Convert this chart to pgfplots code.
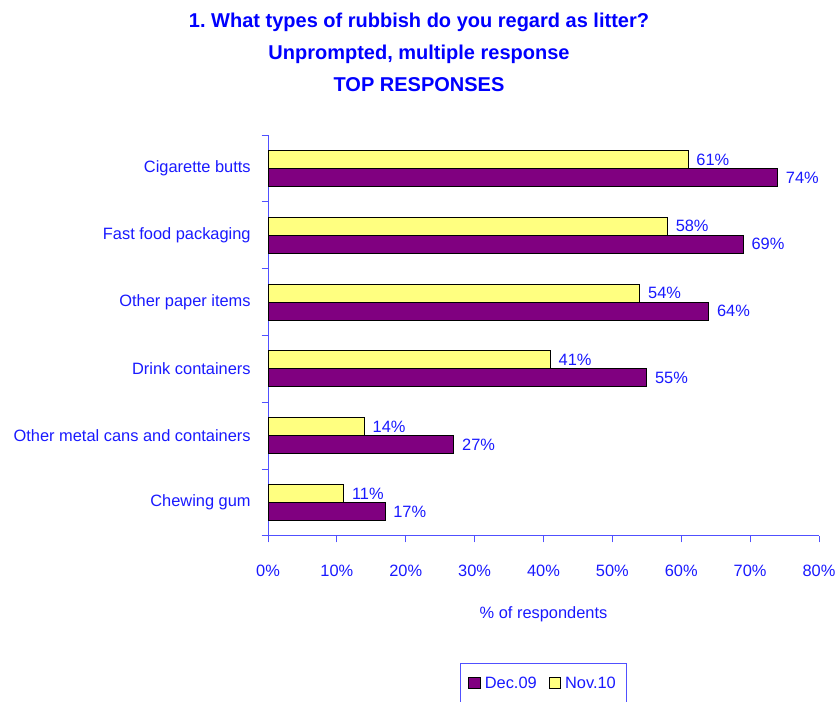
\documentclass[border=0pt]{standalone}
\usepackage{pgfplots}
\pgfplotsset{compat=1.18}
\usepackage{fontspec}
\setmainfont{Liberation Sans}
\definecolor{tblue}{RGB}{0,0,255}
\definecolor{lblue}{RGB}{25,25,255}
\definecolor{axblue}{RGB}{80,80,255}
\definecolor{barpurple}{RGB}{128,0,128}
\definecolor{baryellow}{RGB}{255,255,128}
\frenchspacing
\begin{document}
\begin{tikzpicture}
\useasboundingbox (0,0) rectangle (628.5pt,526.5pt);
\node[anchor=base, font=\fontsize{15}{18}\selectfont\bfseries, text=tblue] at (314.25pt,505.5pt) {1. What types of rubbish do you regard as litter?};
\node[anchor=base, font=\fontsize{15}{18}\selectfont\bfseries, text=tblue] at (314.25pt,481.5pt) {Unprompted, multiple response};
\node[anchor=base, font=\fontsize{15}{18}\selectfont\bfseries, text=tblue] at (314.25pt,457.5pt) {TOP RESPONSES};
\begin{axis}[
  at={(201pt,124.5pt)}, anchor=south west,
  scale only axis, width=413.25pt, height=300.75pt,
  xbar, bar width=13.5pt,
  xmin=0, xmax=80, ymin=-0.5, ymax=5.5,
  axis x line*=bottom, axis y line*=left,
  axis line style={axblue, line width=0.75pt, -},
  /pgf/number format/assume math mode=true,
  tick align=outside,
  major tick length=0pt, minor tick length=4.75pt,
  tick style={axblue, line width=0.75pt},
  xtick={0,10,...,80},
  xticklabels={0\%,10\%,20\%,30\%,40\%,50\%,60\%,70\%,80\%},
  minor xtick={0,10,...,80},
  ytick={0,1,2,3,4,5},
  yticklabels={Chewing gum,Other metal cans and containers,Drink containers,Other paper items,Fast food packaging,Cigarette butts},
  minor ytick={-0.5,0.5,...,5.5},
  tick label style={font=\fontsize{12.3}{14}\selectfont, text=lblue},
  xticklabel style={anchor=center, yshift=-26.25pt},
  yticklabel style={anchor=east, xshift=-9.5pt},
  xlabel={\% of respondents},
  xlabel style={at={(axis description cs:0.5,0)}, anchor=center, yshift=-59pt, font=\fontsize{12.3}{14}\selectfont, text=lblue},
  point meta=x,
  nodes near coords={\pgfmathprintnumber{\pgfplotspointmeta}\%},
  nodes near coords align=horizontal,
  every node near coord/.append style={font=\fontsize{12.3}{14}\selectfont, text=lblue, xshift=2.5pt},
  legend columns=-1,
  legend style={at={(0.5,0)}, anchor=north, yshift=-95.25pt, draw=axblue, line width=0.75pt,
    font=\fontsize{12.3}{14}\selectfont, text=lblue, inner xsep=6pt, inner ysep=8pt,
    /tikz/every odd column/.append style={column sep=1pt},
    /tikz/every even column/.append style={column sep=7pt}},
  legend image code/.code={\draw[#1, line width=0.75pt] (0pt,-4pt) rectangle (8.5pt,4.5pt);},
]
\addplot[fill=barpurple, draw=black, line width=0.75pt, bar shift=-6.75pt] coordinates {(17,0) (27,1) (55,2) (64,3) (69,4) (74,5)};
\addplot[fill=baryellow, draw=black, line width=0.75pt, bar shift=6.75pt] coordinates {(11,0) (14,1) (41,2) (54,3) (58,4) (61,5)};
\legend{Dec.09,Nov.10}
\end{axis}
\end{tikzpicture}
\end{document}
